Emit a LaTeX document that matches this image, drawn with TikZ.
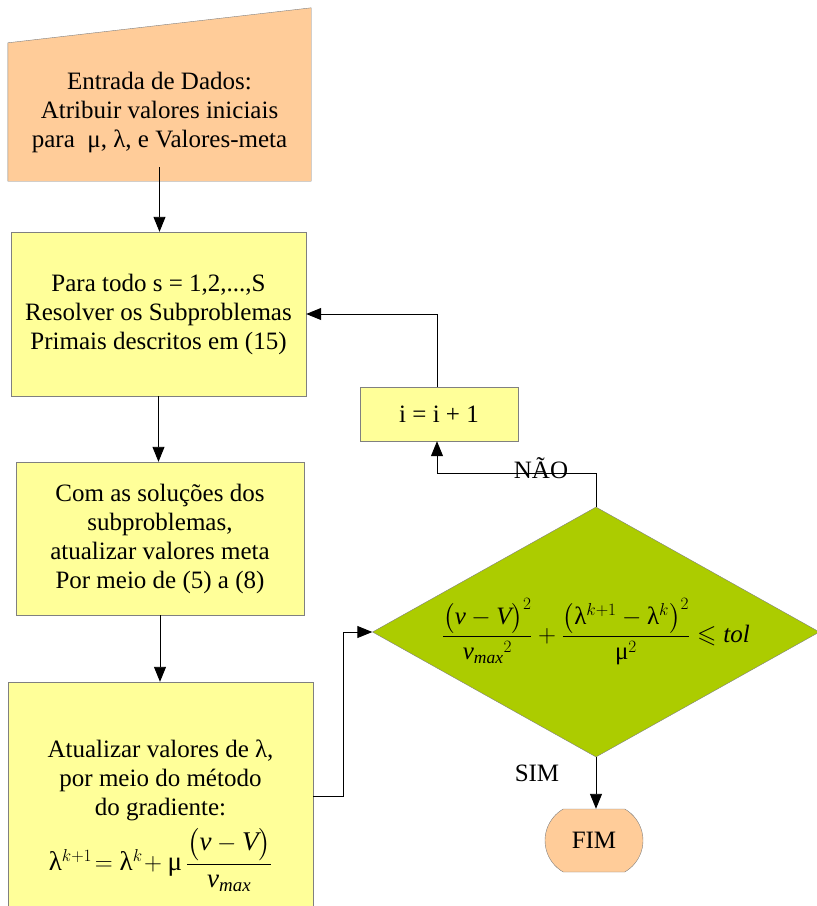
\documentclass[tikz,border=0pt]{standalone}
\usepackage{amsmath}
\usepackage{amssymb}
\usepackage{fontspec}
\setmainfont{Liberation Serif}
\usetikzlibrary{arrows.meta, calc, shapes.geometric, shapes.misc, backgrounds}
\definecolor{boxorange}{RGB}{255,204,153}
\definecolor{boxyellow}{RGB}{255,255,153}
\definecolor{boxgreen}{RGB}{172,204,0}
\definecolor{boxedge}{RGB}{128,128,128}
\newcommand{\lam}{\mathrm{λ}}
\newcommand{\mmu}{\mathrm{μ}}

\begin{document}
\begin{tikzpicture}[x=1pt, y=-1pt,
  every node/.style={font=\fontsize{25}{29}\selectfont},
  proc/.style={draw=boxedge, fill=boxyellow, align=center, inner sep=0pt},
  decision/.style={diamond, draw=boxedge, fill=boxgreen, inner sep=0pt},
  term/.style={rounded rectangle, rounded rectangle arc length=120, draw=boxedge, fill=boxorange, inner sep=0pt},
  conn/.style={draw=black, line width=0.9pt, -{Triangle[length=15pt, width=12pt]}}]
\useasboundingbox (0,0) rectangle (817,906);
\node[align=center, inner sep=0pt, minimum width=303pt, minimum height=138pt] (inp) at (159.5,112)
  {Entrada de Dados:\\ Atribuir valores iniciais\\ para\ \ μ, λ, e Valores-meta};
\begin{scope}[on background layer]
\filldraw[draw=boxedge, fill=boxorange] (inp.south west) -- (inp.south east) -- ([yshift=35pt]inp.north east) -- (inp.north west) -- cycle;
\end{scope}
\node[proc, minimum width=295pt, minimum height=164pt] (solve) at (158.5,314)
  {Para todo s = 1,2,...,S\\ Resolver os Subproblemas\\ Primais descritos em (15)};
\node[proc, minimum width=288pt, minimum height=153pt] (meta) at (160,538.5)
  {Com as soluções dos\\ subproblemas,\\ atualizar valores meta\\ Por meio de (5) a (8)};
\node[proc, minimum width=305pt, minimum height=268pt] (grad) at (160.5,816)
  {Atualizar valores de λ,\\ por meio do método\\ do gradiente:\\[6pt]
   {\fontsize{27}{31}\selectfont$\lam^{k+1}\!=\lam^{k}\!+\mmu\,\dfrac{\bigl(\mathit{v}-\mathit{V}\bigr)}{\mathit{v}_{\mathit{max}}}$}};
\node[proc, minimum width=158pt, minimum height=54pt] (iter) at (439,414) {i = i + 1};
\node[decision, minimum width=447pt, minimum height=250pt,
  label={center:$\dfrac{\bigl(\mathit{v}-\mathit{V}\bigr)^{2}}{{\mathit{v}_{\mathit{max}}}^{2}}
  +\dfrac{\bigl(\lam^{k+1}-\lam^{k}\bigr)^{2}}{\mmu^{2}}\leqslant \mathit{tol}$}] (test) at (596,632) {};
\node[term, minimum width=98pt, minimum height=63pt] (fim) at (594,840.5) {FIM};
\node (nao) at (541,468) {NÃO};
\node (sim) at (537,773) {SIM};
\draw[conn] ([yshift=14pt]inp.south) -- (inp.south |- solve.north);
\draw[conn] (solve.south) -- (solve.south |- meta.north);
\draw[conn] (meta.south) -- (meta.south |- grad.north);
\draw[conn] ([yshift=20pt]grad.east) -- ++(30,0) |- (test.west);
\draw[conn] (test.north) -- ++(0,-33) -| ([xshift=-2pt]iter.south);
\draw[conn] ([xshift=-2pt]iter.north) |- (solve.east);
\draw[conn] (test.south) -- (test.south |- fim.north);
\end{tikzpicture}
\end{document}
